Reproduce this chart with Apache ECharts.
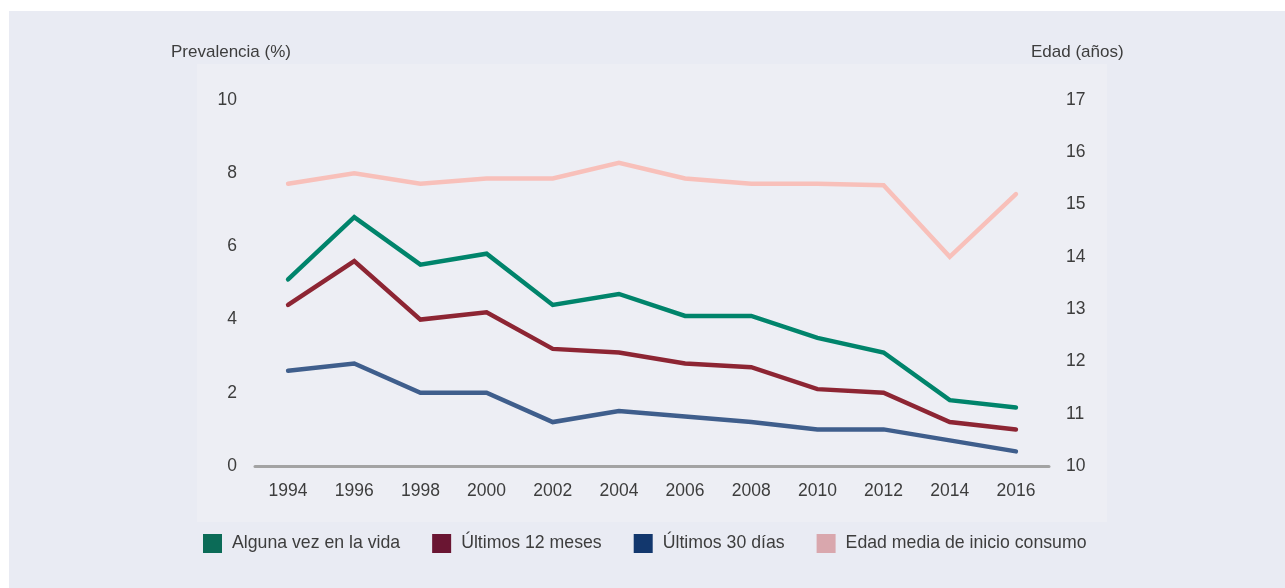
<!DOCTYPE html>
<html>
<head>
<meta charset="utf-8">
<script src="https://cdn.jsdelivr.net/npm/echarts@6/dist/echarts.min.js"></script>
<style>
  html, body { margin: 0; padding: 0; background: #ffffff; }
  #chart { width: 1285px; height: 588px; }
</style>
</head>
<body>
<div id="chart"></div>
<script>
const years = ['1994', '1996', '1998', '2000', '2002', '2004', '2006', '2008', '2010', '2012', '2014', '2016']
const algunaVez = [5.1, 6.8, 5.5, 5.8, 4.4, 4.7, 4.1, 4.1, 3.5, 3.1, 1.8, 1.6]
const ultimos12 = [4.4, 5.6, 4.0, 4.2, 3.2, 3.1, 2.8, 2.7, 2.1, 2.0, 1.2, 1.0]
const ultimos30 = [2.6, 2.8, 2.0, 2.0, 1.2, 1.5, 1.35, 1.2, 1.0, 1.0, 0.7, 0.4]
const edadMedia = [15.4, 15.6, 15.4, 15.5, 15.5, 15.8, 15.5, 15.4, 15.4, 15.37, 14.0, 15.2]

const fontFamily = '"Liberation Sans", Arial, sans-serif'
const textColor = '#3d3d3d'

const makeLine = (name, data, lineColor, legendColor, yAxisIndex) => ({
  name,
  type: 'line',
  data,
  yAxisIndex,
  symbol: 'none',
  smooth: false,
  lineStyle: { color: lineColor, width: 4.5, cap: 'round', join: 'miter' },
  itemStyle: { color: legendColor },
  emphasis: { disabled: true }
})

const chart = echarts.init(document.getElementById('chart'))

chart.setOption({
  animation: false,
  backgroundColor: '#ffffff',
  textStyle: { fontFamily },
  graphic: [
    { type: 'rect', z: -10, shape: { x: 9, y: 11, width: 1276, height: 577 }, style: { fill: '#e9ebf3' } },
    { type: 'rect', z: -9, shape: { x: 197, y: 64, width: 910, height: 458 }, style: { fill: '#edeef4' } },
    { type: 'text', left: 171, top: 44, style: { text: 'Prevalencia (%)', fontSize: 17, fill: textColor, fontFamily } },
    { type: 'text', left: 1031, top: 44, style: { text: 'Edad (años)', fontSize: 17, fill: textColor, fontFamily } }
  ],
  grid: { left: 255, right: 236, top: 100, bottom: 122 },
  legend: {
    left: 198,
    top: 529,
    icon: 'rect',
    itemWidth: 19,
    itemHeight: 19,
    itemGap: 32,
    textStyle: { fontSize: 17.7, color: textColor, fontFamily, padding: [0, 0, 0, 5] },
    selectedMode: false
  },
  xAxis: {
    type: 'category',
    data: years,
    boundaryGap: true,
    axisLine: { show: true, lineStyle: { color: '#a3a3a3', width: 3 } },
    axisTick: { show: false },
    axisLabel: { color: textColor, fontSize: 17.5, margin: 16, interval: 0 }
  },
  yAxis: [
    {
      type: 'value',
      min: 0, max: 10, interval: 2,
      axisLine: { show: false },
      axisTick: { show: false },
      splitLine: { show: false },
      axisLabel: { color: textColor, fontSize: 17.5, margin: 18 }
    },
    {
      type: 'value',
      position: 'right',
      min: 10, max: 17, interval: 1,
      axisLine: { show: false },
      axisTick: { show: false },
      splitLine: { show: false },
      axisLabel: { color: textColor, fontSize: 17.5, margin: 17 }
    }
  ],
  series: [
    makeLine('Alguna vez en la vida', algunaVez, '#00846b', '#0b6b57', 0),
    makeLine('Últimos 12 meses', ultimos12, '#8d2533', '#6a1532', 0),
    makeLine('Últimos 30 días', ultimos30, '#3f5e8c', '#12376d', 0),
    makeLine('Edad media de inicio consumo', edadMedia, '#f8c0ba', '#d9a7ad', 1)
  ]
})
</script>
</body>
</html>
